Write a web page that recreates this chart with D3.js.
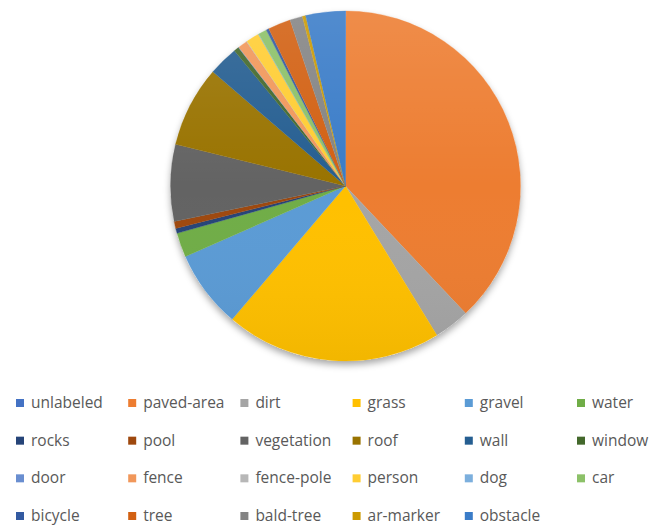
<!DOCTYPE html>
<html><head><meta charset="utf-8">
<script src="https://cdn.jsdelivr.net/npm/d3@7/dist/d3.min.js"></script>
<style>body{margin:0;background:#fff;} svg{display:block;}</style>
</head><body>
<svg id="chart" width="656" height="525"></svg>
<script>
const categories = ["unlabeled","paved-area","dirt","grass","gravel","water","rocks","pool","vegetation","roof","wall","window","door","fence","fence-pole","person","dog","car","bicycle","tree","bald-tree","ar-marker","obstacle"];
const values = [0.05,38.0,3.3,20.0,7.2,2.25,0.47,0.64,7.1,7.5,2.75,0.47,0.05,0.86,0.05,1.22,0.05,0.78,0.25,2.1,1.17,0.3,3.67];
const colors = ["#4472C4","#ED7D31","#A5A5A5","#FFC000","#5B9BD5","#70AD47","#264478","#9E480E","#636363","#997300","#255E91","#43682B","#698ED0","#F1975A","#B7B7B7","#FFCD33","#7CAFDD","#8CC168","#335AA1","#D26012","#848484","#CC9A00","#3A7CC8"];

const svg = d3.select("#chart");
const defs = svg.append("defs");
const f = defs.append("filter").attr("id","sh").attr("x","-20%").attr("y","-20%").attr("width","140%").attr("height","140%");
f.append("feDropShadow").attr("dx",0).attr("dy",4).attr("stdDeviation",3.5).attr("flood-color","#000").attr("flood-opacity",0.35);
const g1 = defs.append("linearGradient").attr("id","shade").attr("x1",0).attr("y1",0).attr("x2",0).attr("y2",1);
g1.append("stop").attr("offset","0%").attr("stop-color","#fff").attr("stop-opacity",0.12);
g1.append("stop").attr("offset","50%").attr("stop-color","#fff").attr("stop-opacity",0);
g1.append("stop").attr("offset","100%").attr("stop-color","#000").attr("stop-opacity",0.05);

const cx = 345.5, cy = 186, r = 175;
const color = d3.scaleOrdinal().domain(categories).range(colors);
const pie = d3.pie().sort(null).value(d => d.v);
const data = categories.map((c,i)=>({c, v: values[i]}));
const arc = d3.arc().innerRadius(0).outerRadius(r);

const g = svg.append("g").attr("transform",`translate(${cx},${cy})`);
g.append("circle").attr("r", r).attr("fill","#fff").attr("filter","url(#sh)");
g.selectAll("path.s").data(pie(data)).join("path").attr("class","s")
  .attr("d", arc).attr("fill", d => color(d.data.c))
  .attr("stroke", d => color(d.data.c)).attr("stroke-width",0.3);
g.append("circle").attr("r", r).attr("fill","url(#shade)");

// legend
const colX = d3.scaleLinear().domain([0,5]).range([16, 577]);
const rowY = d3.scaleLinear().domain([0,3]).range([402, 515]);
const lg = svg.append("g");
categories.forEach((c,i)=>{
  const col = i % 6, row = Math.floor(i/6);
  const x = colX(col), y = rowY(row);
  lg.append("rect").attr("x", x).attr("y", y-3).attr("width",8).attr("height",8).attr("fill", color(c));
  lg.append("text").attr("x", x+15).attr("y", y+6).text(c)
    .attr("font-family","'Open Sans', sans-serif").attr("font-size",15.5).attr("fill","#595959");
});
</script>
</body></html>
